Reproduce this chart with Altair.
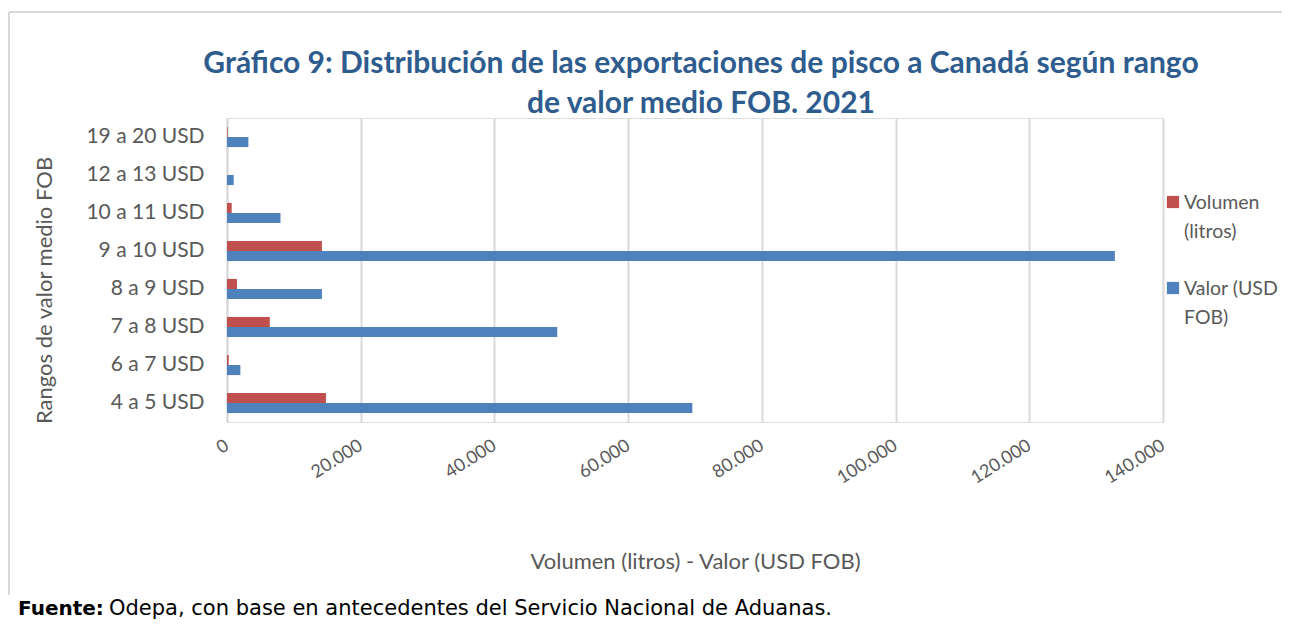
import altair as alt
import pandas as pd

# ---- data ----
categories = ["19 a 20 USD", "12 a 13 USD", "10 a 11 USD", "9 a 10 USD",
              "8 a 9 USD", "7 a 8 USD", "6 a 7 USD", "4 a 5 USD"]
series = ["Volumen (litros)", "Valor (USD FOB)"]
series_lines = [["Volumen", "(litros)"], ["Valor (USD", "FOB)"]]
volumen = [100, 0, 700, 14200, 1500, 6400, 250, 14800]
valor = [3200, 1000, 8000, 132800, 14200, 49400, 2000, 69600]
x_ticks = [0, 20000, 40000, 60000, 80000, 100000, 120000, 140000]

title_lines = ["Gráfico 9: Distribución de las exportaciones de pisco a Canadá según rango",
               "de valor medio FOB. 2021"]
source_bold = "Fuente:"
source_text = "Odepa, con base en antecedentes del Servicio Nacional de Aduanas."

colors = ["#C0504D", "#4F81BD"]
gray = "#595959"
grid = "#D9D9D9"
title_color = "#2E5C8E"

rows = []
for c, v1, v2 in zip(categories, volumen, valor):
    rows.append({"rango": c, "serie": series[0], "valor": v1})
    rows.append({"rango": c, "serie": series[1], "valor": v2})
df = pd.DataFrame(rows)

W, H = 936, 304

bars = alt.Chart(df).mark_bar().encode(
    y=alt.Y("rango:N", sort=categories,
            scale=alt.Scale(paddingInner=0.47, paddingOuter=0.235),
            axis=alt.Axis(title="Rangos de valor medio FOB", titleFont="Lato",
                          titleFontSize=22, titleFontWeight="normal", titleColor=gray,
                          titleY=172, titlePadding=29,
                          labelFont="Lato", labelFontSize=21, labelColor=gray,
                          labelPadding=23, ticks=False, domain=True,
                          domainColor=grid, domainWidth=2, grid=False)),
    yOffset=alt.YOffset("serie:N", sort=series,
                        scale=alt.Scale(domain=series, paddingInner=0, paddingOuter=0)),
    x=alt.X("valor:Q", scale=alt.Scale(domain=[0, 140000], nice=False),
            axis=alt.Axis(title="Volumen (litros) - Valor (USD FOB)", values=x_ticks,
                          labelExpr="replace(format(datum.value, ','), ',', '.')",
                          labelAngle=328, labelAlign="right", labelBaseline="middle",
                          labelPadding=22, labelFont="Lato", labelFontSize=18,
                          labelColor=gray, titleFont="Lato", titleFontSize=22,
                          titleFontWeight="normal", titleColor=gray, titlePadding=64,
                          ticks=False, domain=False, grid=True, gridColor=grid,
                          gridWidth=2)),
    color=alt.Color("serie:N", sort=series,
                    scale=alt.Scale(domain=series, range=colors), legend=None),
)

# manual legend (two-line labels as in the reference)
leg_parts = []
for i, (s, lines) in enumerate(zip(series, series_lines)):
    d = pd.DataFrame({"serie": [s]})
    yc = 84 + 86 * i
    sym = alt.Chart(d).mark_square(size=150, opacity=1).encode(
        x=alt.value(946), y=alt.value(yc),
        color=alt.Color("serie:N", scale=alt.Scale(domain=series, range=colors), legend=None))
    lab = alt.Chart(d).mark_text(align="left", baseline="alphabetic", font="Lato",
                                 fontSize=19.5, color=gray, lineHeight=29).encode(
        x=alt.value(957), y=alt.value(yc + 7), text=alt.value(lines))
    leg_parts += [sym, lab]

one = pd.DataFrame({"k": [0]})
border_top = alt.Chart(one).mark_rule(color="#D9D9D9", strokeWidth=2).encode(
    x=alt.value(-218), x2=alt.value(1080), y=alt.value(-106))
border_left = alt.Chart(one).mark_rule(color="#D9D9D9", strokeWidth=2).encode(
    x=alt.value(-218), y=alt.value(-106), y2=alt.value(477))
title1 = alt.Chart(one).mark_text(align="center", baseline="alphabetic", font="Lato",
                                  fontSize=30, fontWeight="bold", color=title_color).encode(
    x=alt.value(474), y=alt.value(-45), text=alt.value(title_lines[0]))
title2 = alt.Chart(one).mark_text(align="center", baseline="alphabetic", font="Lato",
                                  fontSize=30, fontWeight="bold", color=title_color).encode(
    x=alt.value(474), y=alt.value(-5), text=alt.value(title_lines[1]))
src1 = alt.Chart(one).mark_text(align="left", baseline="alphabetic", font="DejaVu Sans",
                                fontSize=20, fontWeight="bold", color="black").encode(
    x=alt.value(-209), y=alt.value(497), text=alt.value(source_bold))
src2 = alt.Chart(one).mark_text(align="left", baseline="alphabetic", font="DejaVu Sans",
                                fontSize=21, color="black").encode(
    x=alt.value(-118), y=alt.value(497), text=alt.value(source_text))

chart = alt.layer(border_top, border_left, bars, *leg_parts, title1, title2, src1, src2).properties(
    width=W, height=H,
    autosize=alt.AutoSizeParams(type="none"),
    padding={"left": 219, "top": 110, "right": 119, "bottom": 203},
).configure_view(stroke=None).configure(background="white")

chart.save("out.html", embed_options={"renderer": "svg", "actions": False})
